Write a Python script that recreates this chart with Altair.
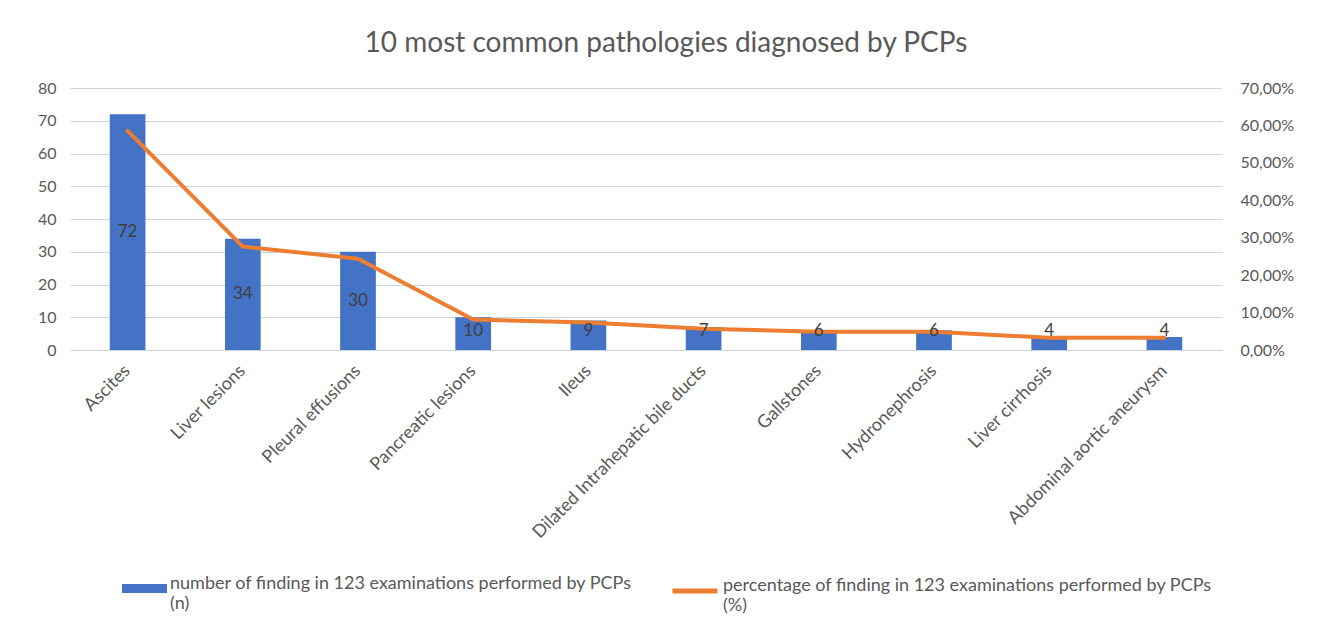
import json
import altair as alt
import pandas as pd

categories = ["Ascites", "Liver lesions", "Pleural effusions", "Pancreatic lesions", "Ileus",
              "Dilated Intrahepatic bile ducts", "Gallstones", "Hydronephrosis",
              "Liver cirrhosis", "Abdominal aortic  aneurysm"]
counts = [72, 34, 30, 10, 9, 7, 6, 6, 4, 4]
percentages = [0.5854, 0.2764, 0.2439, 0.0813, 0.0732, 0.0569, 0.0488, 0.0488, 0.0325, 0.0325]
left_ticks = [0, 10, 20, 30, 40, 50, 60, 70, 80]
right_ticks = [0, 0.1, 0.2, 0.3, 0.4, 0.5, 0.6, 0.7]
title_text = "10 most common pathologies diagnosed by PCPs"
legend_bar = ["number of finding in 123 examinations performed by PCPs", "(n)"]
legend_line = ["percentage of finding in 123 examinations performed by PCPs", "(%)"]

df = pd.DataFrame({"category": categories, "n": counts, "p": percentages})

FONT = "Lato"
GREY = "#595959"
BLUE = "#4472C4"
ORANGE = "#ED7D31"
GRID = "#C9D5DF"

xenc = alt.X("category:N", sort=categories, title=None,
             scale=alt.Scale(paddingInner=0.69, paddingOuter=0.345),
             axis=alt.Axis(labelAngle=-45, labelAlign="right", labelBaseline="middle",
                           labelPadding=18, labelFontSize=18, labelColor=GREY, labelFont=FONT,
                           labelLimit=400, ticks=False, domain=False, grid=False))

base = alt.Chart(df).transform_calculate(sn="'n'", sp="'p'", lp="max(datum.n/2, 5.7)")

legend_common = dict(orient="none", legendY=478, title=None, padding=0, labelFont=FONT,
                     labelFontSize=18, labelColor=GREY, labelLimit=700, labelOffset=3,
                     labelBaseline="alphabetic", symbolSize=2025)

bars = base.mark_bar().encode(
    x=xenc,
    y=alt.Y("n:Q", title=None,
            scale=alt.Scale(domain=[0, 80], nice=False),
            axis=alt.Axis(values=left_ticks, labelFontSize=16, labelColor=GREY, labelFont=FONT,
                          labelPadding=14, grid=True, gridColor=GRID, gridWidth=1.2,
                          ticks=False, domain=False)),
    color=alt.Color("sn:N", scale=alt.Scale(range=[BLUE]),
                    legend=alt.Legend(legendX=52,
                                      symbolType="M-1,-0.2L1,-0.2L1,0.2L-1,0.2Z",
                                      symbolStrokeWidth=0,
                                      labelExpr="datum.label == 'n' ? " + json.dumps(legend_bar) + " : datum.label",
                                      **legend_common)),
)

line = base.mark_line(strokeWidth=4, strokeCap="round", strokeJoin="round").encode(
    x=xenc,
    y=alt.Y("p:Q", title=None,
            scale=alt.Scale(domain=[0, 0.7], nice=False),
            axis=alt.Axis(orient="right", values=right_ticks, labelFontSize=16, labelColor=GREY,
                          labelFont=FONT, labelPadding=18, grid=False, ticks=False, domain=False,
                          labelExpr="replace(format(datum.value*100, '.2f'), '.', ',') + '%'")),
    stroke=alt.Stroke("sp:N", scale=alt.Scale(range=[ORANGE]),
                      legend=alt.Legend(legendX=600,
                                        symbolType="stroke", symbolStrokeWidth=5,
                                        labelExpr="datum.label == 'p' ? " + json.dumps(legend_line) + " : datum.label",
                                        **legend_common)),
)

labels = base.mark_text(fontSize=17, color="#404040", font=FONT, baseline="middle").encode(
    x=xenc,
    y=alt.Y("lp:Q", scale=alt.Scale(domain=[0, 80], nice=False), axis=None),
    text=alt.Text("n:Q"),
)

chart = alt.layer(bars, line, labels).resolve_scale(
    y="independent", color="independent", stroke="independent"
).properties(
    width=1152, height=262,
    autosize=alt.AutoSizeParams(type="none"),
    padding={"left": 62, "top": 80, "right": 103, "bottom": 280},
    title=alt.TitleParams(title_text, fontSize=28, font=FONT, color=GREY, fontWeight="normal",
                          anchor="middle", offset=22, dx=20),
    background="white",
).configure_view(stroke=None)

chart.save("out.html", embed_options={"renderer": "svg", "actions": False})
